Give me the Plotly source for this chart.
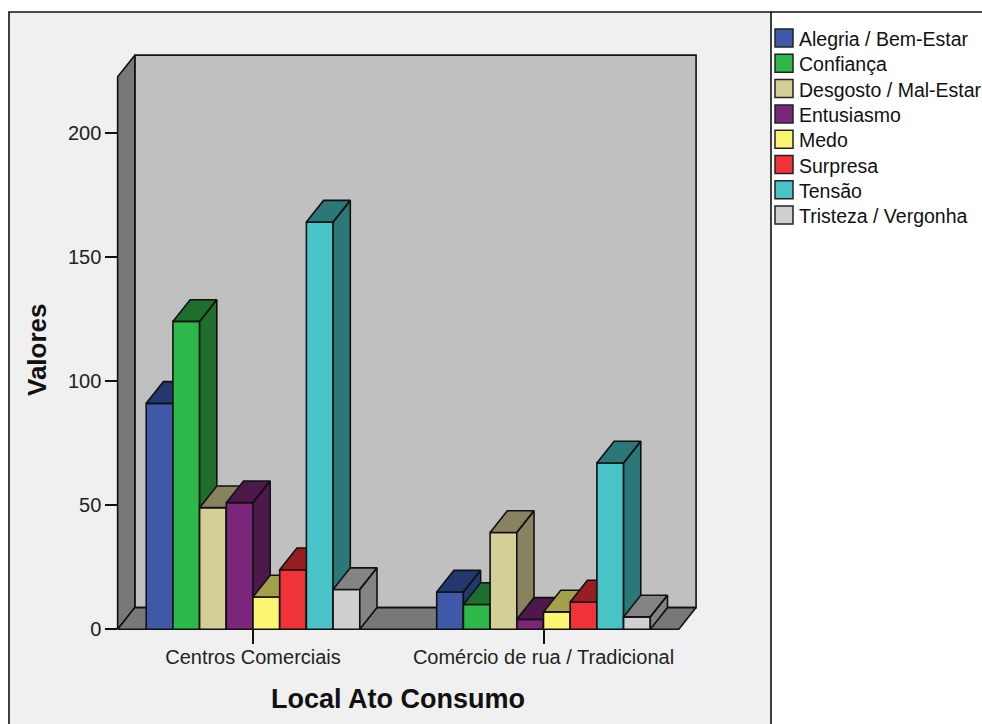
import plotly.graph_objects as go

# ---- data ----
categories = ["Centros Comerciais", "Comércio de rua / Tradicional"]
series_names = [
    "Alegria / Bem-Estar", "Confiança", "Desgosto / Mal-Estar", "Entusiasmo",
    "Medo", "Surpresa", "Tensão", "Tristeza / Vergonha",
]
alegria = [91, 15]
confianca = [124, 10]
desgosto = [49, 39]
entusiasmo = [51, 4]
medo = [13, 7]
surpresa = [24, 11]
tensao = [164, 67]
tristeza = [16, 5]
series_values = [alegria, confianca, desgosto, entusiasmo, medo, surpresa, tensao, tristeza]
y_ticks = [0, 50, 100, 150, 200]

# ---- styling ----
front_colors = ["#3f58a8", "#2fb84a", "#d4cf97", "#7b267a",
                "#fbf672", "#ef3339", "#48c3c7", "#cfcfcf"]
dark_colors = ["#243870", "#1e6e2e", "#878360", "#4d184b",
               "#a3a04a", "#991e22", "#2c7778", "#848484"]
FONT = "Liberation Sans, Arial, sans-serif"
EDGE = dict(color="#111111", width=1.6)

W, H = 982, 724
# plot area in pixels
L, R, T, B = 100, 720, 40, 650
# scales
PX_PER_CAT = 290.5
CAT0_PX = 253.0
PX_PER_UNIT = 2.483
ZERO_PY = 629.3

# 3D box geometry (data units)
BAR_W = 0.0919
DX = 17.2 / PX_PER_CAT
DY = 21.7 / PX_PER_UNIT
X_LO, X_HI = -0.466, 1.466
Y_TOP = 222.5


def px2x(px):
    return (px - L) / (R - L)


def py2y(py):
    return (B - py) / (B - T)


fig = go.Figure()


def poly(xs, ys, color):
    fig.add_trace(go.Scatter(
        x=xs, y=ys, mode="lines", fill="toself", fillcolor=color,
        line=EDGE, hoverinfo="skip", showlegend=False,
    ))


# walls and floor
poly([X_LO + DX, X_HI + DX, X_HI + DX, X_LO + DX, X_LO + DX],
     [DY, DY, Y_TOP + DY, Y_TOP + DY, DY], "#c0c0c0")
poly([X_LO, X_LO + DX, X_LO + DX, X_LO, X_LO],
     [0, DY, Y_TOP + DY, Y_TOP, 0], "#787878")
poly([X_LO, X_HI, X_HI + DX, X_LO + DX, X_LO],
     [0, 0, DY, DY, 0], "#787878")

# bars: front face, then top + right side, left to right
n = len(series_names)
for j, (vals, fc, dc) in enumerate(zip(series_values, front_colors, dark_colors)):
    fx, fy, dx_, dy_ = [], [], [], []
    for g, v in enumerate(vals):
        x0 = g - n * BAR_W / 2 + j * BAR_W
        x1 = x0 + BAR_W
        fx += [x0, x1, x1, x0, x0, None]
        fy += [0, 0, v, v, 0, None]
        dx_ += [x0, x1, x1 + DX, x0 + DX, x0, None]
        dy_ += [v, v, v + DY, v + DY, v, None]
        dx_ += [x1, x1 + DX, x1 + DX, x1, x1, None]
        dy_ += [0, DY, v + DY, v, 0, None]
    fig.add_trace(go.Scatter(x=fx, y=fy, mode="lines", fill="toself", fillcolor=fc,
                             line=EDGE, name=series_names[j], hoverinfo="skip",
                             showlegend=False))
    fig.add_trace(go.Scatter(x=dx_, y=dy_, mode="lines", fill="toself", fillcolor=dc,
                             line=EDGE, hoverinfo="skip", showlegend=False))

shapes = [
    # chart background panel
    dict(type="rect", xref="paper", yref="paper", layer="below",
         x0=px2x(9), x1=px2x(771), y0=py2y(760), y1=py2y(12),
         fillcolor="#f0f0f0", line=dict(color="#111111", width=1.6)),
    dict(type="line", xref="paper", yref="paper", layer="below",
         x0=px2x(771), x1=px2x(990), y0=py2y(12), y1=py2y(12),
         line=dict(color="#111111", width=1.6)),
]
annotations = [
    dict(text="Valores", x=px2x(37), y=py2y(350), xref="paper", yref="paper",
         xanchor="center", yanchor="middle", textangle=-90, showarrow=False,
         font=dict(family=FONT, size=26, color="#111111", weight="bold")),
    dict(text="Local Ato Consumo", x=px2x(398), y=py2y(699), xref="paper", yref="paper",
         xanchor="center", yanchor="middle", showarrow=False,
         font=dict(family=FONT, size=27, color="#111111", weight="bold")),
]

# legend
ROW = 25.3
for i, (name, c) in enumerate(zip(series_names, front_colors)):
    cy = 38 + i * ROW
    shapes.append(dict(type="rect", xref="paper", yref="paper",
                       x0=px2x(775), x1=px2x(793), y0=py2y(cy + 9), y1=py2y(cy - 9),
                       fillcolor=c, line=dict(color="#222222", width=1.5)))
    annotations.append(dict(text=name, x=px2x(796.5), y=py2y(cy + 1),
                            xref="paper", yref="paper", xanchor="left", yanchor="middle",
                            showarrow=False,
                            font=dict(family=FONT, size=19.5, color="#111111")))

fig.update_layout(
    width=W, height=H,
    margin=dict(l=L, r=W - R, t=T, b=H - B),
    paper_bgcolor="white", plot_bgcolor="rgba(0,0,0,0)",
    showlegend=False,
    shapes=shapes, annotations=annotations,
    xaxis=dict(
        range=[(L - CAT0_PX) / PX_PER_CAT, (R - CAT0_PX) / PX_PER_CAT],
        tickvals=[0, 1], ticktext=categories,
        ticks="outside", ticklen=14, tickwidth=1.5, tickcolor="#111111",
        ticklabelstandoff=-4,
        showgrid=False, zeroline=False, showline=False,
        anchor="free", position=py2y(ZERO_PY),
        tickfont=dict(family=FONT, size=20, color="#222222"),
        fixedrange=True,
    ),
    yaxis=dict(
        range=[(ZERO_PY - B) / PX_PER_UNIT, (ZERO_PY - T) / PX_PER_UNIT],
        tickvals=y_ticks,
        ticks="outside", ticklen=12, tickwidth=1.5, tickcolor="#111111",
        showgrid=False, zeroline=False, showline=False,
        anchor="free", position=px2x(117.3),
        tickfont=dict(family=FONT, size=20, color="#222222"),
        fixedrange=True,
    ),
)

fig.write_html("out.html")
